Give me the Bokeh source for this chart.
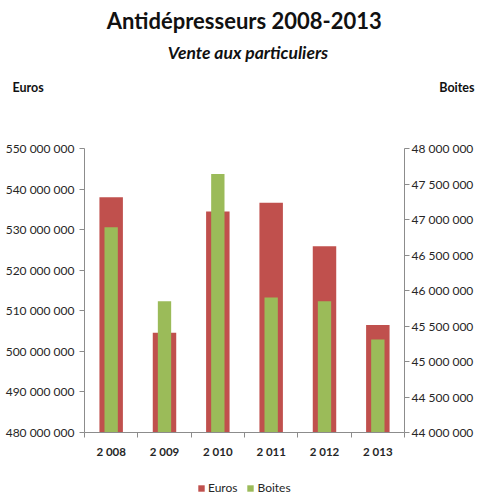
from bokeh.plotting import figure
from bokeh.layouts import column
from bokeh.models import (Range1d, LinearAxis, FixedTicker,
                          CustomJSTickFormatter, Legend, LegendItem, ColumnDataSource)
from bokeh.core.properties import value
from bokeh.embed import file_html
from bokeh.resources import INLINE

years = ["2 008", "2 009", "2 010", "2 011", "2 012", "2 013"]
euros = [538.0e6, 504.6e6, 534.5e6, 536.6e6, 525.9e6, 506.5e6]
boites = [46.89e6, 45.85e6, 47.64e6, 45.90e6, 45.85e6, 45.31e6]
left_ticks = [480e6, 490e6, 500e6, 510e6, 520e6, 530e6, 540e6, 550e6]
right_ticks = [44.0e6, 44.5e6, 45.0e6, 45.5e6, 46.0e6, 46.5e6, 47.0e6, 47.5e6, 48.0e6]
series_names = ["Euros", "Boites"]
title_text = "Antidépresseurs  2008-2013"
subtitle_text = "Vente aux particuliers"
unit_labels = ["Euros", "Boites"]

FONT = "Lato"
RED = "#C0504D"
GREEN = "#9BBB59"
AX = "#8c8c8c"
TXT = "#262626"
W = 476
HEAD_H = 140
FOOT_H = 16
MAIN_H = 480 - HEAD_H
FRAME_H = 284


def bare(fig):
    fig.outline_line_color = None
    fig.background_fill_color = "white"
    fig.border_fill_color = "white"
    fig.grid.visible = False


def no_align(fig):
    try:
        fig.frame_align = False
    except Exception:
        pass


# ---------------- header (titles and unit labels) ----------------
head = figure(width=W, height=HEAD_H, x_range=Range1d(0, W), y_range=Range1d(0, HEAD_H),
              output_backend="svg", toolbar_location=None,
              x_axis_location=None, y_axis_location=None, min_border=0)
bare(head)
no_align(head)
head.text(x=[246.5], y=[HEAD_H - 20], text=[title_text], text_font=value(FONT),
          text_font_size="22px", text_font_style="bold", text_color="#111111",
          text_align="center", text_baseline="middle")
head.text(x=[247.5], y=[HEAD_H - 52], text=[subtitle_text], text_font=value(FONT),
          text_font_size="17.5px", text_font_style="bold italic", text_color="#111111",
          text_align="center", text_baseline="middle")
head.text(x=[12], y=[HEAD_H - 87], text=[unit_labels[0]], text_font=value(FONT),
          text_font_size="12.5px", text_font_style="bold", text_color="#111111",
          text_align="left", text_baseline="middle")
head.text(x=[W - 2], y=[HEAD_H - 87], text=[unit_labels[1]], text_font=value(FONT),
          text_font_size="12.5px", text_font_style="bold", text_color="#111111",
          text_align="right", text_baseline="middle")

# ---------------- main chart ----------------
n = len(years)
centers = [i + 0.5 for i in range(n)]
src = ColumnDataSource(dict(x=centers, euros=euros, boites=boites))

p = figure(width=W, height=MAIN_H, x_range=Range1d(0, n),
           y_range=Range1d(left_ticks[0], left_ticks[-1]),
           output_backend="svg", toolbar_location=None,
           x_axis_location=None, y_axis_location=None,
           min_border_left=84, min_border_right=W - 404, min_border_top=8,
           min_border_bottom=MAIN_H - 8 - FRAME_H)
p.extra_y_ranges = {"boites": Range1d(right_ticks[0], right_ticks[-1])}
bare(p)

p.vbar(x="x", top="euros", bottom=left_ticks[0], width=0.44, source=src,
       fill_color=RED, line_color=None)
p.vbar(x="x", top="boites", bottom=right_ticks[0], width=0.25, source=src,
       fill_color=GREEN, line_color=None, y_range_name="boites")

fmt = CustomJSTickFormatter(code="""
return Math.round(tick).toString().replace(/\\B(?=(\\d{3})+(?!\\d))/g, ' ');
""")


def style_y(ax, standoff):
    ax.axis_line_color = AX
    ax.major_tick_line_color = AX
    ax.major_tick_out = 5
    ax.major_tick_in = 0
    ax.minor_tick_line_color = None
    ax.major_label_text_font = FONT
    ax.major_label_text_font_size = "12px"
    ax.major_label_text_color = TXT
    ax.major_label_standoff = standoff


left = LinearAxis(ticker=FixedTicker(ticks=left_ticks), formatter=fmt)
style_y(left, 5)
p.add_layout(left, "left")

right = LinearAxis(y_range_name="boites", ticker=FixedTicker(ticks=right_ticks), formatter=fmt)
style_y(right, 2)
p.add_layout(right, "right")

xt = LinearAxis(ticker=FixedTicker(ticks=list(range(n + 1))))
xt.axis_line_color = AX
xt.major_tick_line_color = AX
xt.major_tick_out = 5
xt.major_tick_in = 0
xt.minor_tick_line_color = None
xt.major_label_text_font_size = "0px"
xt.major_label_standoff = 0
xt.major_label_overrides = {i: "" for i in range(n + 1)}
p.add_layout(xt, "below")

xc = LinearAxis(ticker=FixedTicker(ticks=centers))
xc.major_label_overrides = {c: y for c, y in zip(centers, years)}
xc.axis_line_color = None
xc.major_tick_line_color = None
xc.minor_tick_line_color = None
xc.major_label_text_font = FONT
xc.major_label_text_font_size = "11.5px"
xc.major_label_text_font_style = "bold"
xc.major_label_text_color = TXT
xc.major_label_standoff = 1
p.add_layout(xc, "below")

# ---------------- footer legend ----------------
foot = figure(width=W, height=FOOT_H, x_range=Range1d(0, 1), y_range=Range1d(0, 1),
              output_backend="svg", toolbar_location=None,
              x_axis_location=None, y_axis_location=None, min_border=0)
bare(foot)
no_align(foot)
# legend swatch renderers (their single bar lies outside the footer's view)
lr1 = foot.vbar(x=[5], top=[1], bottom=0, width=0.1, fill_color=RED, line_color=None)
lr2 = foot.vbar(x=[5], top=[1], bottom=0, width=0.1, fill_color=GREEN, line_color=None)
legend = Legend(items=[LegendItem(label=series_names[0], renderers=[lr1]),
                       LegendItem(label=series_names[1], renderers=[lr2])],
                orientation="horizontal", location=(197, 1),
                border_line_color=None, background_fill_alpha=0,
                label_text_font=FONT, label_text_font_size="12px", label_text_color=TXT,
                glyph_width=8, glyph_height=8, spacing=9, padding=0, margin=0,
                label_standoff=3, label_height=13)
foot.add_layout(legend, "center")

layout = column(head, p, foot, spacing=0)
open("out.html", "w").write(file_html(layout, INLINE))
